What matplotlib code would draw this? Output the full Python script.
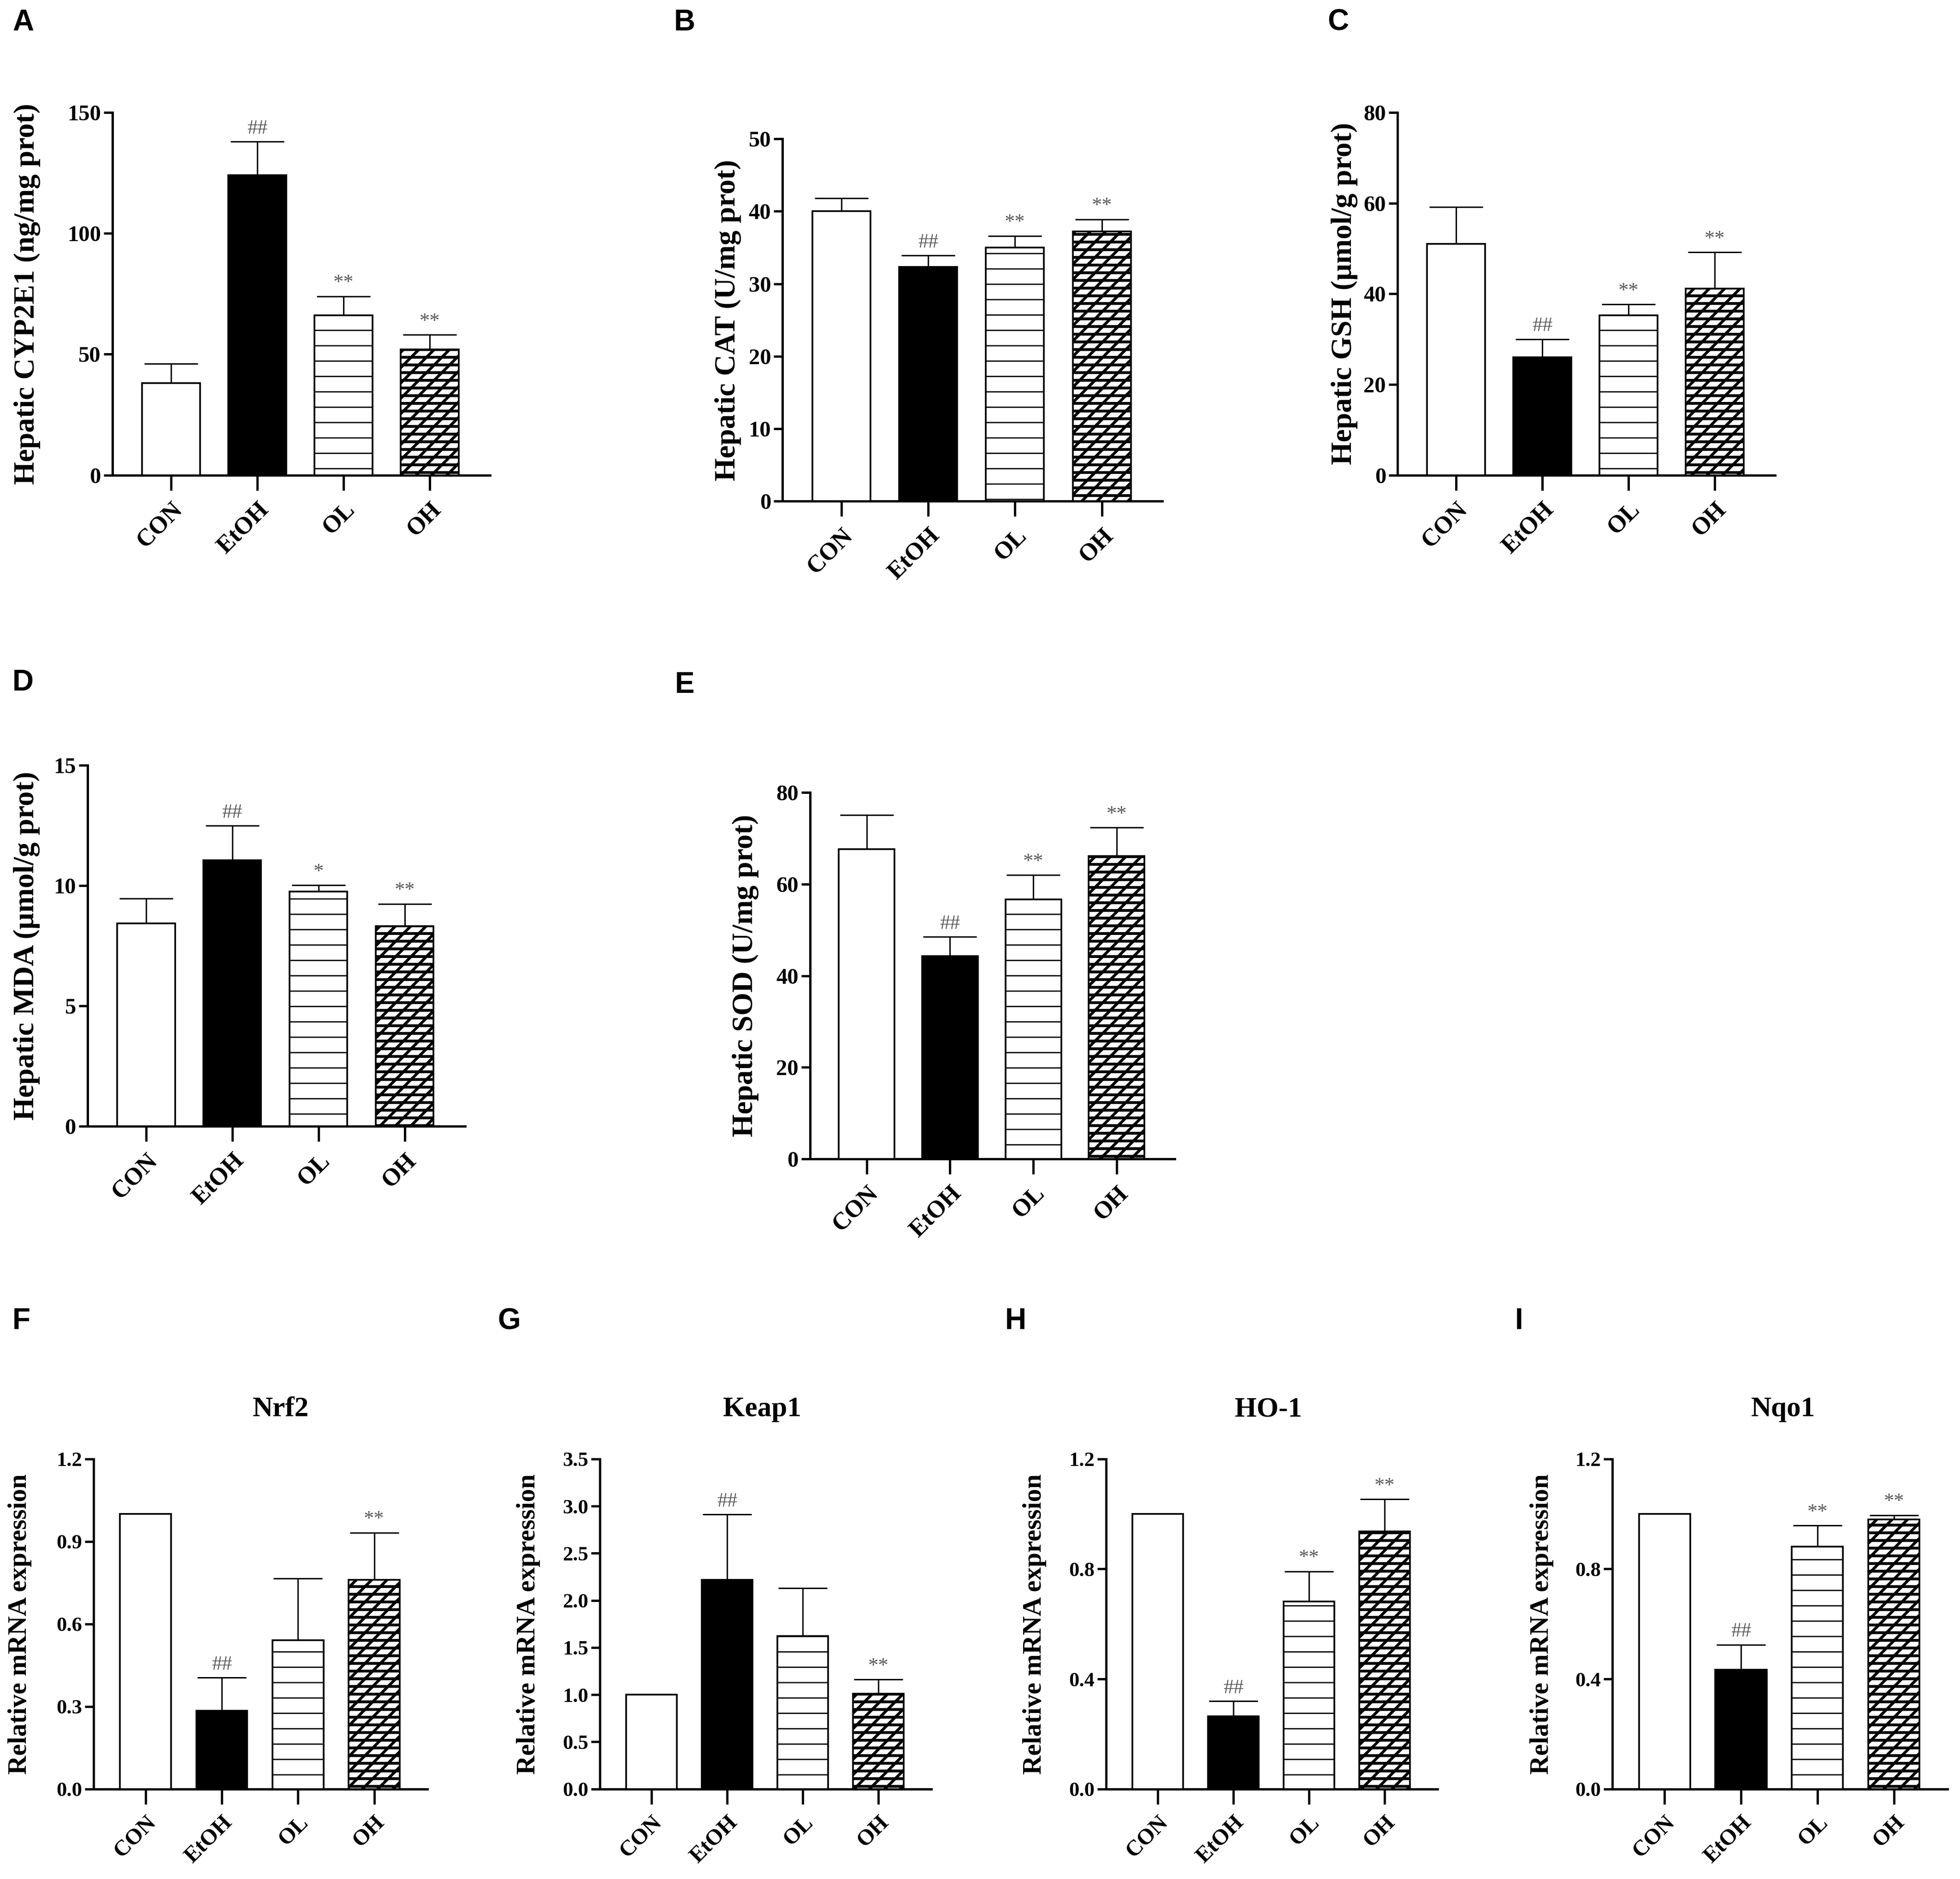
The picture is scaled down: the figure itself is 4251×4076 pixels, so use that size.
import matplotlib
matplotlib.use("Agg")
import matplotlib.pyplot as plt
from matplotlib.ticker import FormatStrFormatter
import numpy as np

# ---------------- data ----------------
groups = ["CON", "EtOH", "OL", "OH"]

cyp2e1_mean = [38.0, 124.0, 66.0, 52.0]
cyp2e1_err = [8.0, 14.0, 8.0, 6.0]
cyp2e1_sig = ["", "##", "**", "**"]

cat_mean = [40.0, 32.3, 35.0, 37.2]
cat_err = [1.8, 1.6, 1.6, 1.7]
cat_sig = ["", "##", "**", "**"]

gsh_mean = [51.0, 26.0, 35.2, 41.2]
gsh_err = [8.2, 4.0, 2.5, 8.0]
gsh_sig = ["", "##", "**", "**"]

mda_mean = [8.43, 11.06, 9.75, 8.32]
mda_err = [1.03, 1.43, 0.26, 0.92]
mda_sig = ["", "##", "*", "**"]

sod_mean = [67.7, 44.3, 56.7, 66.1]
sod_err = [7.4, 4.2, 5.3, 6.3]
sod_sig = ["", "##", "**", "**"]

nrf2_mean = [1.0, 0.285, 0.541, 0.761]
nrf2_err = [0.0, 0.12, 0.225, 0.171]
nrf2_sig = ["", "##", "", "**"]

keap1_mean = [1.0, 2.22, 1.62, 1.01]
keap1_err = [0.0, 0.69, 0.51, 0.15]
keap1_sig = ["", "##", "", "**"]

ho1_mean = [1.0, 0.265, 0.682, 0.937]
ho1_err = [0.0, 0.054, 0.109, 0.117]
ho1_sig = ["", "##", "**", "**"]

nqo1_mean = [1.0, 0.433, 0.881, 0.980]
nqo1_err = [0.0, 0.092, 0.077, 0.016]
nqo1_sig = ["", "##", "**", "**"]

# ---------------- style ----------------
SERIF = ["Liberation Serif", "DejaVu Serif"]
SANS = ["Liberation Sans", "DejaVu Sans"]
plt.rcParams["font.family"] = SERIF
plt.rcParams["hatch.linewidth"] = 1.0

RW, RH = 1568.0, 1503.0  # layout reference units

fig = plt.figure(figsize=(21.255, 20.38), dpi=200)

faces = ["white", "black", "white", "white"]
hatches = [None, None, "-", "//--"]
hatch_lw = [1.0, 1.0, 1.0, 2.2]


def make_ax(l, r, top, bottom):
    return fig.add_axes([l / RW, 1 - bottom / RH, (r - l) / RW, (bottom - top) / RH])


def panel(box, mean, err, sig, ymax, ticks, fmt, ylabel, lab_x, ylab_fs,
          tick_fs, xtick_fs, cap, title=None, title_x=0.5):
    ax = make_ax(*box)
    x = np.arange(len(groups))
    for i in range(len(groups)):
        with plt.rc_context({"hatch.linewidth": hatch_lw[i]}):
            b = ax.bar(x[i], mean[i], width=0.67, color=faces[i], edgecolor="black",
                       linewidth=1.3, hatch=hatches[i], zorder=3)
        for p in b:
            if hasattr(p, "set_hatch_linewidth"):
                p.set_hatch_linewidth(hatch_lw[i])
    e = np.array(err)
    m = np.array(mean)
    idx = e > 0
    ax.errorbar(x[idx], m[idx], yerr=[np.zeros(idx.sum()), e[idx]], fmt="none",
                ecolor="black", elinewidth=1.1, capsize=cap, capthick=1.1, zorder=2)
    for i in range(len(groups)):
        if sig[i]:
            ax.annotate(sig[i], (x[i], mean[i] + err[i]), xytext=(0, 3),
                        textcoords="offset points", ha="center", va="bottom",
                        fontsize=16, color="#5a5a5a", family=SERIF)
    ax.set_xlim(-0.68, 3.7)
    ax.set_ylim(0, ymax)
    ax.set_yticks(ticks)
    ax.yaxis.set_major_formatter(FormatStrFormatter(fmt))
    ax.set_xticks(x)
    ax.set_xticklabels(groups, rotation=45, ha="right", va="top",
                       rotation_mode="anchor", fontsize=xtick_fs, fontweight="bold")
    for t in ax.get_yticklabels():
        t.set_fontweight("bold")
    ax.tick_params(axis="y", length=7, width=1.8, labelsize=tick_fs, pad=2)
    ax.tick_params(axis="x", length=12, width=1.8, pad=6)
    for s in ["top", "right"]:
        ax.spines[s].set_visible(False)
    for s in ["left", "bottom"]:
        ax.spines[s].set_linewidth(1.8)
    ax.set_ylabel(ylabel, fontsize=ylab_fs, fontweight="bold")
    ax.yaxis.set_label_coords(lab_x, 0.5)
    if title:
        ax.text(title_x, 1.15, title, transform=ax.transAxes, ha="center",
                va="center", fontsize=22, fontweight="bold")
    return ax


panel((90, 392, 90, 380), cyp2e1_mean, cyp2e1_err, cyp2e1_sig, 150, [0, 50, 100, 150], "%d",
      "Hepatic CYP2E1 (ng/mg prot)", -0.19, 23, 17.5, 19, 21)
panel((626, 930, 111, 401), cat_mean, cat_err, cat_sig, 50, [0, 10, 20, 30, 40, 50], "%d",
      "Hepatic CAT (U/mg prot)", -0.108, 23, 17.5, 19, 21)
panel((1118, 1420, 90, 380), gsh_mean, gsh_err, gsh_sig, 80, [0, 20, 40, 60, 80], "%d",
      "Hepatic GSH (\u03bcmol/g prot)", -0.105, 23, 17.5, 19, 21)
panel((70, 372, 612, 901), mda_mean, mda_err, mda_sig, 15, [0, 5, 10, 15], "%d",
      "Hepatic MDA (\u03bcmol/g prot)", -0.125, 23, 17.5, 19, 21)
panel((648, 940, 634, 927), sod_mean, sod_err, sod_sig, 80, [0, 20, 40, 60, 80], "%d",
      "Hepatic SOD (U/mg prot)", -0.14, 23, 17.5, 19, 21)

rna_label = "Relative mRNA expression"
panel((75, 342, 1167, 1431), nrf2_mean, nrf2_err, nrf2_sig, 1.2, [0, 0.3, 0.6, 0.9, 1.2], "%.1f",
      rna_label, -0.185, 20.5, 16, 17.5, 19, title="Nrf2", title_x=0.56)
panel((480, 745, 1167, 1431), keap1_mean, keap1_err, keap1_sig, 3.5,
      [0, 0.5, 1.0, 1.5, 2.0, 2.5, 3.0, 3.5], "%.1f",
      rna_label, -0.18, 20.5, 16, 17.5, 19, title="Keap1", title_x=0.49)
panel((885, 1150, 1167, 1431), ho1_mean, ho1_err, ho1_sig, 1.2, [0, 0.4, 0.8, 1.2], "%.1f",
      rna_label, -0.18, 20.5, 16, 17.5, 19, title="HO-1", title_x=0.49)
panel((1290, 1558, 1167, 1431), nqo1_mean, nqo1_err, nqo1_sig, 1.2, [0, 0.4, 0.8, 1.2], "%.1f",
      rna_label, -0.175, 20.5, 16, 17.5, 19, title="Nqo1", title_x=0.51)

letters = [("A", 10, 18), ("B", 539, 18), ("C", 1062, 18), ("D", 10, 546), ("E", 540, 548),
           ("F", 10, 1057), ("G", 398, 1057), ("H", 804, 1057), ("I", 1212, 1057)]
for s, lx, ly in letters:
    fig.text(lx / RW, 1 - ly / RH, s, ha="left", va="center", fontsize=23,
             fontweight="bold", family=SANS)

fig.savefig("out.png", dpi=200, facecolor="white")
